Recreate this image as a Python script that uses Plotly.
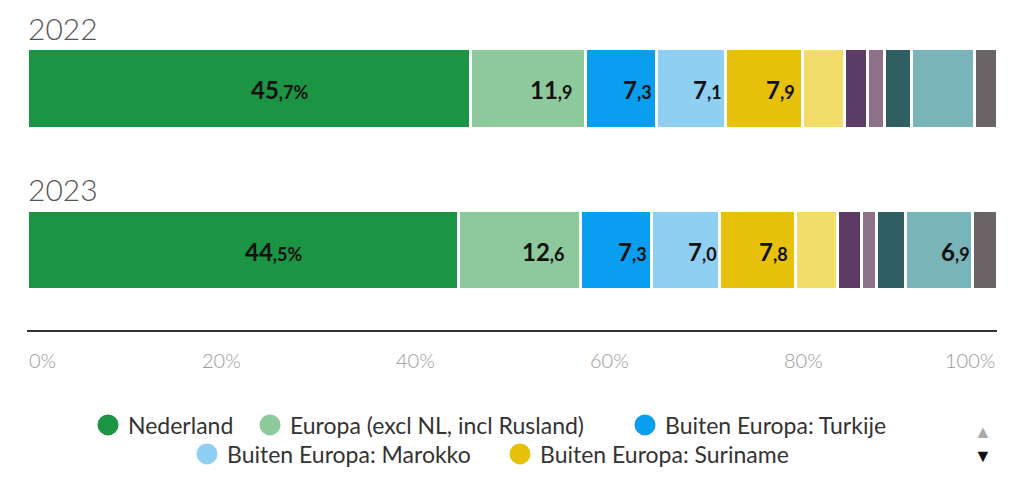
import plotly.graph_objects as go

years = ["2022", "2023"]
series = [
    "Nederland",
    "Europa (excl NL, incl Rusland)",
    "Buiten Europa: Turkije",
    "Buiten Europa: Marokko",
    "Buiten Europa: Suriname",
    "Buiten Europa: Nederlandse Cariben",
    "Buiten Europa: Indonesië",
    "Buiten Europa: Syrië",
    "Buiten Europa: overig Azië",
    "Buiten Europa: overig",
    "Onbekend",
]
values_2022 = [45.7, 11.9, 7.3, 7.1, 7.9, 4.4, 2.3, 1.8, 2.8, 6.5, 2.3]
values_2023 = [44.5, 12.6, 7.3, 7.0, 7.8, 4.4, 2.4, 1.6, 3.0, 6.9, 2.5]
colors = ["#1b9444", "#8dc99b", "#0a9ef0", "#8ecff2", "#e7c10c",
          "#f2dd6b", "#5c3c64", "#8e7089", "#2f5f62", "#79b4b8", "#6a6466"]
x_ticks = [0, 20, 40, 60, 80, 100]

FONT = "Lato"
OFF = 8  # page body margin
W, H = 1020 - 2 * OFF, 477 - 2 * OFF
M_L, M_T = 27 - OFF, 10 - OFF
M_R = W - (997 - OFF)
M_B = H - (330 - OFF)
PLOT_H = H - M_T - M_B
PLOT_W = W - M_L - M_R
cat_order = ["2023", "2022"]
values_by_year = {"2022": values_2022, "2023": values_2023}

# legend page 1 layout: (text start x, row centre y) in page pixels, one legend per entry
legend_slots = [(128, 425), (290, 425), (665, 425), (227, 454), (540, 454)]


def page_to_paper_x(px):
    return (px - OFF - M_L) / PLOT_W


def page_to_paper_y(py):
    return (H - M_B - (py - OFF)) / PLOT_H


fig = go.Figure()
for i, name in enumerate(series):
    fig.add_trace(go.Bar(
        y=years, x=[values_2022[i], values_2023[i]], orientation="h",
        name=name, width=0.49,
        marker=dict(color=colors[i], line=dict(color="white", width=3)),
        showlegend=False,
        hovertemplate="%{y}: %{x:.1f}%<extra>" + name + "</extra>",
    ))
    if i < len(legend_slots):
        fig.add_trace(go.Scatter(
            x=[None], y=[None], mode="markers", name=name,
            marker=dict(size=16, color=colors[i], line=dict(color=colors[i], width=5)),
            legend="legend" if i == 0 else f"legend{i + 1}",
            showlegend=True,
        ))

annotations = []
# year titles
for yr in years:
    annotations.append(dict(
        x=0, xref="x", y=cat_order.index(yr), yref="y", yshift=61,
        xanchor="left", yanchor="middle", text=yr, showarrow=False, borderpad=0,
        font=dict(family=FONT, size=30, color="#555", weight=300),
    ))
# bar value labels
for yr in years:
    start = 0.0
    for v in values_by_year[yr]:
        if v >= 6.7:
            ip, dp = f"{v:.1f}".split(".")
            suffix = "%" if v > 14 else ""
            annotations.append(dict(
                x=start + v / 2, xref="x", y=cat_order.index(yr), yref="y", yshift=-1,
                xanchor="left", yanchor="middle",
                text=f"<b>{ip}</b><span style='font-size:18px'><b>,{dp}{suffix}</b></span>",
                showarrow=False, font=dict(family=FONT, size=24, color="#111"),
            ))
        start += v
# tick labels
for t in x_ticks:
    annotations.append(dict(
        x=t, xref="x", y=0, yref="paper", yshift=-30, yanchor="middle",
        xanchor="left" if t == 0 else ("right" if t == 100 else "center"),
        text=f"{t}%", showarrow=False,
        font=dict(family=FONT, size=20, color="#9a9a9a", weight=300),
    ))
# legend pager arrows
annotations.append(dict(x=page_to_paper_x(983), xref="paper", y=page_to_paper_y(431), yref="paper",
                        xanchor="center", yanchor="middle", borderpad=0,
                        text="▲", showarrow=False, font=dict(size=18, color="#aaa")))
annotations.append(dict(x=page_to_paper_x(983), xref="paper", y=page_to_paper_y(455), yref="paper",
                        xanchor="center", yanchor="middle", borderpad=0,
                        text="▼", showarrow=False, font=dict(size=18, color="#111")))

legends = {}
for k, (tx, ty) in enumerate(legend_slots):
    key = "legend" if k == 0 else f"legend{k + 1}"
    legends[key] = dict(
        orientation="h", xref="container", x=(tx - 40 - OFF) / W, xanchor="left",
        yref="container", y=1 - (ty - OFF) / H, yanchor="middle",
        font=dict(family=FONT, size=23, color="#333"), itemsizing="trace",
        bgcolor="rgba(0,0,0,0)",
    )

fig.update_layout(
    width=W, height=H,
    margin=dict(l=M_L, r=M_R, t=M_T, b=M_B),
    barmode="stack",
    paper_bgcolor="white", plot_bgcolor="white",
    font=dict(family=FONT, color="#333"),
    xaxis=dict(range=[0, 100], showgrid=False, zeroline=False, showticklabels=False,
               ticks="", showline=True, linecolor="#333", linewidth=2, fixedrange=True),
    yaxis=dict(type="category", categoryorder="array", categoryarray=cat_order,
               range=[-0.495, 1.486], showgrid=False, zeroline=False,
               showticklabels=False, fixedrange=True),
    annotations=annotations,
    **legends,
)

fig.write_html("out.html")
